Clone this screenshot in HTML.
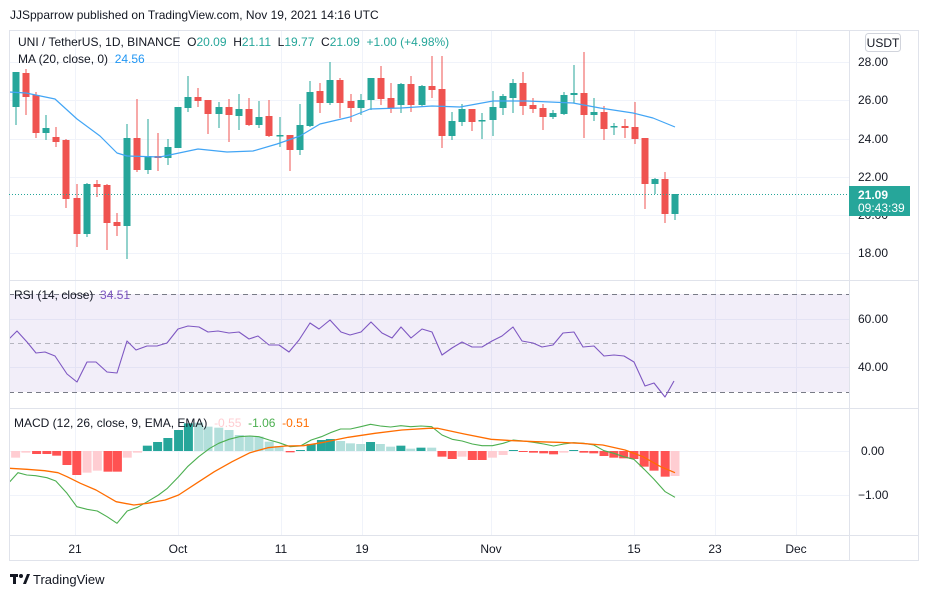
<!DOCTYPE html>
<html><head><meta charset="utf-8"><style>
html,body{margin:0;padding:0;background:#fff;width:927px;height:598px;overflow:hidden;font-family:"Liberation Sans",sans-serif}
svg{position:absolute;left:0;top:0}
text{white-space:pre}
</style></head><body>
<svg id="s" width="927" height="598" viewBox="0 0 927 598" xmlns="http://www.w3.org/2000/svg" font-family="Liberation Sans, sans-serif" xml:space="preserve">
<rect x="0" y="0" width="927" height="598" fill="#fff"/>
<g id="grid" stroke="#f0f3fa" stroke-width="1"></g>
<rect x="9" y="294" width="840" height="98" fill="#7e57c2" fill-opacity="0.1"/>
<g stroke="#787b86" stroke-dasharray="5,4" stroke-width="1">
<line x1="9" y1="294.5" x2="849" y2="294.5"/><line x1="9" y1="343.5" x2="849" y2="343.5" stroke-opacity="0.5"/><line x1="9" y1="392.5" x2="849" y2="392.5"/>
</g>
<g id="plot"></g>
<g stroke="#e0e3eb" stroke-width="1" fill="none">
<rect x="9.5" y="30.5" width="909" height="530"/>
<line x1="9" y1="280.5" x2="918" y2="280.5"/>
<line x1="9" y1="408.5" x2="918" y2="408.5"/>
<line x1="9" y1="535.5" x2="918" y2="535.5"/>
<line x1="849.5" y1="30" x2="849.5" y2="560"/>
</g>
<line x1="9" y1="194.5" x2="849" y2="194.5" stroke="#26a69a" stroke-dasharray="1,2"/>
<text x="10" y="19" font-size="12" fill="#131722">JJSpparrow published on TradingView.com, Nov 19, 2021 14:16 UTC</text>
<text x="18" y="46" font-size="12" fill="#131722">UNI / TetherUS, 1D, BINANCE  O<tspan fill="#26a69a">20.09</tspan>  H<tspan fill="#26a69a">21.11</tspan>  L<tspan fill="#26a69a">19.77</tspan>  C<tspan fill="#26a69a">21.09</tspan>  <tspan fill="#26a69a">+1.00 (+4.98%)</tspan></text>
<text x="18" y="63" font-size="12" fill="#131722">MA (20, close, 0)  <tspan fill="#2196f3">24.56</tspan></text>
<text x="14" y="299" font-size="12" fill="#131722">RSI (14, close)  <tspan fill="#7e57c2">34.51</tspan></text>
<text x="14" y="427" font-size="12" fill="#131722">MACD (12, 26, close, 9, EMA, EMA)  <tspan fill="#ffcdd2">-0.55</tspan>  <tspan fill="#4caf50">-1.06</tspan>  <tspan fill="#ff6d00">-0.51</tspan></text>
<rect x="865.5" y="33.5" width="35" height="18" rx="3" fill="#fff" stroke="#d1d4dc"/>
<text x="883" y="47" font-size="12" fill="#131722" text-anchor="middle">USDT</text>
<g font-size="12" fill="#131722">
<text x="858" y="66">28.00</text><text x="858" y="104">26.00</text><text x="858" y="143">24.00</text><text x="858" y="181">22.00</text><text x="858" y="219">20.00</text><text x="858" y="257">18.00</text>
<text x="858" y="323">60.00</text><text x="858" y="371">40.00</text>
<text x="861" y="455">0.00</text><text x="858" y="499">−1.00</text>
</g>
<rect x="849" y="186" width="61" height="30" fill="#26a69a"/>
<text x="858" y="199" font-size="12" fill="#fff" font-weight="bold">21.09</text>
<text x="858" y="212" font-size="12" fill="#fff">09:43:39</text>
<g font-size="12" fill="#131722" text-anchor="middle">
<text x="75" y="553">21</text><text x="178" y="553">Oct</text><text x="281" y="553">11</text><text x="362" y="553">19</text><text x="491" y="553">Nov</text><text x="634" y="553">15</text><text x="715" y="553">23</text><text x="796" y="553">Dec</text>
</g>
<g fill="#131722"><rect x="10" y="574" width="8" height="3"/><rect x="13" y="574" width="3" height="10"/><circle cx="21" cy="576" r="2"/><path d="M23 584 L27 574 L30 574 L26 584Z"/></g>
<text x="33" y="584" font-size="13" fill="#131722">TradingView</text>
</svg>
<script>
var NS="http://www.w3.org/2000/svg";
function el(p,t,a){var e=document.createElementNS(NS,t);for(var k in a)e.setAttribute(k,a[k]);p.appendChild(e);return e;}
var g=document.getElementById("grid"),p=document.getElementById("plot");
[75,178,281,362,491,634,715,796].forEach(function(x){el(g,"line",{x1:x+.5,y1:30,x2:x+.5,y2:535});});
[62,100,139,177,215,253,319,367,451,495].forEach(function(y){el(g,"line",{x1:9,y1:y+.5,x2:849,y2:y+.5});});
var C=[[16,72,107,72,125,1],[26,73,97,69,115,0],[36,95,133,92,138,0],[46,128,133,115,140,1],[56,137,142,127,147,0],[66,140,199,139,208,0],[77,198,234,184,247,0],[87,184,234,183,237,1],[97,184,187,180,197,0],[107,185,223,184,250,0],[117,222,226,213,236,0],[127,138,226,124,259,1],[137,138,170,99,172,0],[148,156,170,119,174,1],[158,156,158,133,171,0],[168,147,158,139,165,1],[178,107,148,107,148,1],[188,97,108,76,112,1],[198,97,101,88,107,0],[208,100,114,100,134,0],[219,107,114,102,128,1],[229,107,115,99,142,0],[239,109,116,94,130,1],[249,109,125,98,126,0],[259,117,125,101,128,1],[269,116,136,100,137,0],[280,135,136,117,147,1],[290,135,150,135,171,0],[300,125,150,104,155,1],[310,92,126,81,127,1],[320,91,103,83,113,0],[330,80,103,62,105,1],[340,80,103,78,118,0],[351,101,108,94,122,0],[361,100,108,94,115,1],[371,78,100,78,110,1],[381,78,99,66,105,0],[391,98,108,83,113,0],[401,84,105,83,113,1],[411,84,105,76,112,0],[422,86,105,85,106,1],[432,86,90,56,98,0],[442,89,136,56,148,0],[452,121,136,112,140,1],[462,109,122,104,126,1],[472,109,122,109,131,0],[482,120,121,113,139,1],[493,107,120,91,136,1],[503,96,108,94,115,1],[513,83,98,79,113,1],[523,83,106,72,115,0],[533,105,109,98,113,0],[543,108,117,104,130,0],[553,113,117,110,119,1],[564,95,114,92,115,1],[574,93,95,65,103,1],[584,93,115,52,138,0],[594,112,115,98,121,1],[604,112,129,106,140,0],[614,126,127,123,135,1],[625,126,128,119,138,0],[635,127,139,102,144,0],[645,138,184,138,209,0],[655,179,184,178,194,1],[665,179,214,172,223,0],[675,194,214,194,220,1]];
C.forEach(function(c){var col=c[5]?"#26a69a":"#ef5350";
el(p,"line",{x1:c[0],y1:c[3],x2:c[0],y2:c[4],stroke:col,"stroke-width":1});
el(p,"rect",{x:c[0]-3.5,y:c[1],width:7,height:Math.max(1.5,c[2]-c[1]),fill:col});});
function line(pts,col,w){el(p,"polyline",{points:pts.map(function(q){return q.join(",")}).join(" "),fill:"none",stroke:col,"stroke-width":w||1.2,"stroke-linejoin":"round"});}
line([[9,92],[26,93],[55,99],[77,119],[100,136],[117,153],[127,156],[160,157],[198,149],[227,152],[253,151],[277,144],[300,136],[320,124],[350,117],[370,109],[401,108],[432,106],[460,107],[493,101],[527,101],[573,103],[600,108],[633,113],[653,118],[675,127]],"#42a5f5",1.2);
line([[9,338],[10,338],[17,331],[27,342],[36,353],[45,352],[55,356],[67,374],[77,382],[87,362],[96,362],[107,372],[117,373],[127,341],[136,350],[147,346],[157,346],[167,343],[178,329],[188,326],[199,327],[208,332],[218,331],[229,333],[239,332],[249,339],[258,336],[269,345],[279,345],[289,352],[299,340],[310,323],[319,329],[330,320],[341,332],[350,335],[361,332],[371,322],[382,333],[392,338],[401,327],[411,338],[422,329],[432,332],[442,355],[452,348],[462,342],[472,347],[482,347],[492,341],[502,336],[513,327],[522,341],[533,343],[542,347],[553,345],[563,333],[574,332],[583,347],[594,346],[604,356],[614,355],[624,356],[634,362],[645,386],[654,383],[665,397],[674,381]],"#7e57c2",1.1);
var H=[[22,533,1],[35,533,1],[58,518,1],[82,522,0],[105,522,0],[127,527,0],[150,555,0],[172,585,0],[195,578,1],[218,572,1],[242,575,0],[263,575,0],[285,533,1],[308,518,1],[330,497,2],[353,486,2],[376,474,2],[400,450,2],[422,430,2],[445,428,3],[466,440,3],[490,443,3],[513,450,3],[536,465,3],[558,467,3],[580,470,3],[603,485,3],[625,498,3],[650,517,0],[673,510,2],[697,492,2],[720,480,2],[740,477,2],[763,483,3],[785,490,3],[808,492,3],[830,486,2],[852,492,3],[875,500,3],[898,497,2],[920,506,3],[943,503,2],[967,503,3],[990,530,0],[1013,537,0],[1035,530,1],[1058,540,0],[1080,540,0],[1103,533,1],[1127,525,1],[1150,510,2],[1172,515,0],[1195,518,0],[1218,520,0],[1240,523,0],[1263,518,1],[1285,510,2],[1308,518,0],[1330,520,0],[1353,528,0],[1375,533,0],[1397,535,0],[1420,537,0],[1443,560,0],[1465,572,0],[1490,590,0],[1512,588,1]];
var cols=["#ff5252","#ffcdd2","#26a69a","#b2dfdb"];
H.forEach(function(h,i){if(i==0)return;var x=h[0]/2.24,y=280+h[1]/3,z=451;
el(p,"rect",{x:x-4.5,y:Math.min(y,z),width:9,height:Math.max(1,Math.abs(y-z)),fill:cols[h[2]]});});
function cv(a){return a.map(function(q){return [(q[0]/2.24).toFixed(1),(280+q[1]/3).toFixed(1)];});}
line(cv([[22,605],[40,578],[60,585],[80,587],[105,593],[125,603],[150,640],[172,680],[195,688],[218,693],[240,710],[262,730],[285,693],[308,682],[330,665],[355,645],[375,625],[400,590],[420,560],[445,530],[470,505],[490,490],[513,478],[536,470],[560,468],[580,470],[603,480],[625,488],[650,500],[673,498],[697,480],[720,470],[740,458],[763,447],[785,447],[808,440],[830,433],[852,438],[875,441],[898,437],[920,440],[943,438],[967,440],[990,465],[1013,478],[1035,483],[1058,492],[1080,497],[1103,497],[1127,490],[1150,480],[1172,483],[1195,487],[1218,492],[1240,498],[1263,492],[1285,488],[1308,490],[1330,495],[1353,512],[1375,520],[1397,530],[1420,538],[1443,568],[1465,598],[1490,635],[1512,652]]),"#4caf50",1.1);
line(cv([[22,565],[60,568],[100,572],[130,578],[150,590],[180,610],[215,630],[260,665],[300,675],[330,670],[370,660],[400,645],[440,610],[480,575],[520,545],[560,518],[600,503],[640,498],[680,497],[720,488],[780,472],[840,460],[900,450],[960,445],[980,445],[1040,462],[1100,478],[1150,482],[1200,485],[1250,487],[1300,490],[1350,495],[1400,510],[1440,530],[1480,560],[1512,578]]),"#ff6d00",1.3);
</script>
</body></html>
